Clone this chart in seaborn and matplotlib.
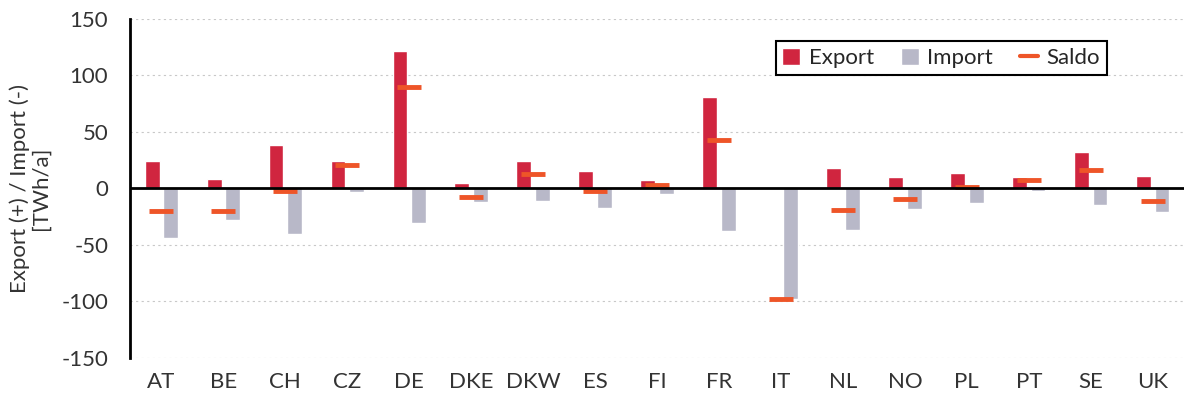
import matplotlib
matplotlib.use("Agg")
import matplotlib.pyplot as plt
import seaborn as sns
import pandas as pd
from matplotlib.patches import Patch
from matplotlib.lines import Line2D

# data (TWh/a)
countries = ["AT", "BE", "CH", "CZ", "DE", "DKE", "DKW", "ES", "FI", "FR",
             "IT", "NL", "NO", "PL", "PT", "SE", "UK"]
export = [24, 8, 38, 24, 122, 5, 24, 15, 7, 81, 0, 18, 10, 14, 10, 32, 11]
imports = [-44, -28, -40, -3, -31, -12, -11, -17, -5, -38, -98, -37, -18, -13, -2, -15, -21]
saldo = [-20, -20, -2, 21, 90, -8, 13, -2, 3, 43, -98, -19, -9, 1, 7, 16, -11]

export_color = "#D0253F"
import_color = "#B8B8C8"
saldo_color = "#EE5528"

df = pd.DataFrame({
    "Country": countries * 2,
    "Value": export + imports,
    "Type": ["Export"] * len(countries) + ["Import"] * len(countries),
})

sns.set_style("white")
plt.rcParams["font.family"] = ["Lato", "DejaVu Sans"]
plt.rcParams["axes.unicode_minus"] = False

fig = plt.figure(figsize=(11.86, 4.03), dpi=100)
ax = fig.add_axes([0.110, 0.112, 0.888, 0.841])

# gridlines first so bars sit on top
for y in [-150, -100, -50, 50, 100, 150]:
    ax.axhline(y, color="#C8C8C8", lw=0.8, ls=(0, (2, 3)), zorder=0)

sns.barplot(data=df, x="Country", y="Value", hue="Type",
            palette={"Export": export_color, "Import": import_color},
            saturation=1, width=0.6, gap=0.2, ax=ax, legend=False, zorder=2)

# saldo as short horizontal dash at the category centre
ax.plot(countries, saldo, ls="none", marker="_", ms=17, mew=3.5,
        color=saldo_color, zorder=3)

ax.axhline(0, color="black", lw=2, zorder=4)

ax.set_ylim(-150, 150)
ax.set_yticks([-150, -100, -50, 0, 50, 100, 150])
ax.set_xlim(-0.5, len(countries) - 0.5)
ax.set_xlabel("")
ax.set_ylabel("Export (+) / Import (-)\n[TWh/a]", fontsize=16, color="#333333",
              linespacing=1.0, labelpad=8)
ax.tick_params(axis="y", length=0, labelsize=16, colors="#333333", pad=16)
ax.tick_params(axis="x", length=0, labelsize=16, colors="#333333", pad=10)

for s in ["top", "right", "bottom"]:
    ax.spines[s].set_visible(False)
ax.spines["left"].set_color("black")
ax.spines["left"].set_linewidth(2)

handles = [
    Patch(facecolor=export_color, label="Export"),
    Patch(facecolor=import_color, label="Import"),
    Line2D([], [], color=saldo_color, lw=3, label="Saldo"),
]
leg = ax.legend(handles=handles, ncol=3, loc="upper right",
                bbox_to_anchor=(0.927, 0.935), borderaxespad=0,
                fancybox=False, framealpha=1, edgecolor="black",
                fontsize=16, handlelength=0.8, handleheight=0.8,
                handletextpad=0.4, columnspacing=1.2,
                borderpad=0.3)
leg.get_frame().set_linewidth(1.5)

fig.savefig("out.png", dpi=100)
plt.close(fig)
